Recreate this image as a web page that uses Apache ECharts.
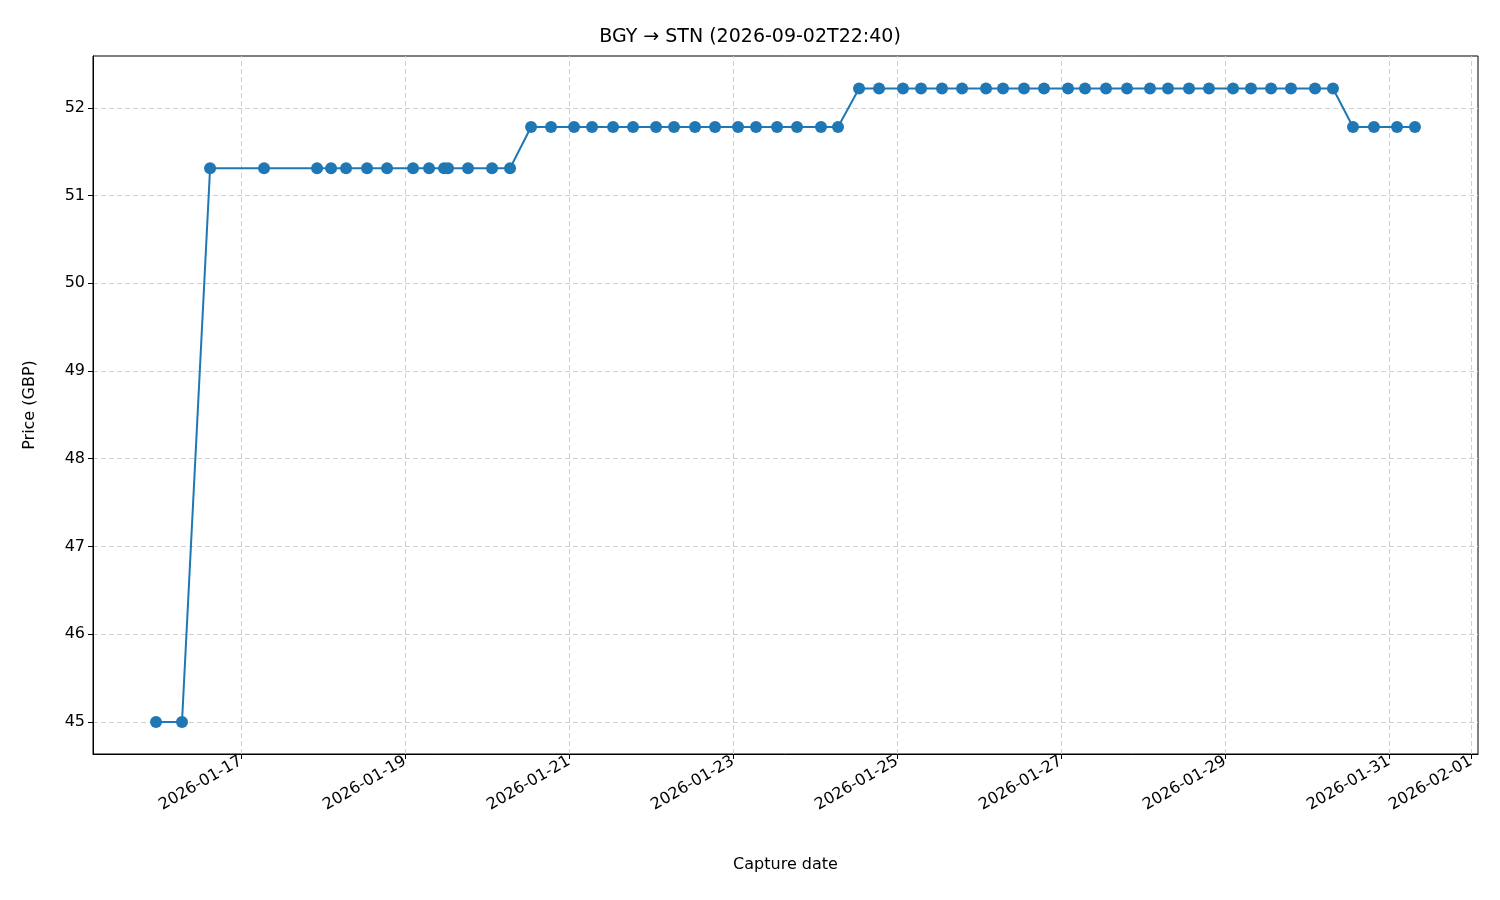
<!DOCTYPE html>
<html><head><meta charset="utf-8">
<script src="https://cdn.jsdelivr.net/npm/echarts@6/dist/echarts.min.js"></script>
<style>html,body{margin:0;padding:0;background:#fff}#c{width:1500px;height:900px}</style>
</head><body><div id="c"></div>
<script>
const captureTimes = [
"2026-01-15T23:07","2026-01-16T06:43","2026-01-16T14:56","2026-01-17T06:44","2026-01-17T22:15",
"2026-01-18T02:21","2026-01-18T06:44","2026-01-18T12:53","2026-01-18T18:44","2026-01-19T02:21",
"2026-01-19T07:02","2026-01-19T11:25","2026-01-19T12:35","2026-01-19T18:26","2026-01-20T01:28",
"2026-01-20T06:44","2026-01-20T12:53","2026-01-20T18:44","2026-01-21T01:28","2026-01-21T06:44",
"2026-01-21T12:53","2026-01-21T18:44","2026-01-22T01:28","2026-01-22T06:44","2026-01-22T12:53",
"2026-01-22T18:44","2026-01-23T01:28","2026-01-23T06:44","2026-01-23T12:53","2026-01-23T18:44",
"2026-01-24T01:45","2026-01-24T06:44","2026-01-24T12:53","2026-01-24T18:44","2026-01-25T01:45",
"2026-01-25T07:02","2026-01-25T13:10","2026-01-25T19:02","2026-01-26T02:03","2026-01-26T07:02",
"2026-01-26T13:10","2026-01-26T19:02","2026-01-27T02:03","2026-01-27T07:02","2026-01-27T13:10",
"2026-01-27T19:19","2026-01-28T02:03","2026-01-28T07:19","2026-01-28T13:28","2026-01-28T19:19",
"2026-01-29T02:21","2026-01-29T07:36","2026-01-29T13:28","2026-01-29T19:19","2026-01-30T02:21",
"2026-01-30T07:36","2026-01-30T13:28","2026-01-30T19:36","2026-01-31T02:21","2026-01-31T07:36"];
const prices = [
45,45,
51.31,51.31,51.31,51.31,51.31,51.31,51.31,51.31,51.31,51.31,51.31,51.31,51.31,51.31,
51.78,51.78,51.78,51.78,51.78,51.78,51.78,51.78,51.78,51.78,51.78,51.78,51.78,51.78,51.78,51.78,
52.22,52.22,52.22,52.22,52.22,52.22,52.22,52.22,52.22,52.22,52.22,52.22,52.22,52.22,52.22,52.22,52.22,52.22,52.22,52.22,52.22,52.22,52.22,52.22,
51.78,51.78,51.78,51.78];
const xTickLabels = ["2026-01-17","2026-01-19","2026-01-21","2026-01-23","2026-01-25","2026-01-27","2026-01-29","2026-01-31","2026-02-01"];
const yTicks = [45,46,47,48,49,50,51,52];
const xRange = ["2026-01-15T04:40","2026-02-01T02:03"];
const yRange = [44.635, 52.59];

const ts = s => Date.parse(s + (s.length > 10 ? ":00Z" : "T00:00:00Z"));
const xTicks = xTickLabels.map(ts);
const pad = n => String(n).padStart(2,'0');
const fmt = v => { const d = new Date(v); return d.getUTCFullYear()+'-'+pad(d.getUTCMonth()+1)+'-'+pad(d.getUTCDate()); };
const gridStyle = {color:'#d0d0d0', type:[5,3], width:1};
const chart = echarts.init(document.getElementById('c'));
chart.setOption({
  animation:false,
  title:{text:'BGY → STN (2026-09-02T22:40)', left:'center', top:23, textStyle:{fontFamily:'DejaVu Sans', fontSize:19, fontWeight:'normal', color:'#000'}},
  grid:{left:93, right:22, top:56, bottom:146},
  xAxis:{type:'value', min:ts(xRange[0]), max:ts(xRange[1]), name:'Capture date', nameLocation:'middle', nameGap:103,
    nameTextStyle:{fontFamily:'DejaVu Sans', fontSize:16, color:'#000'},
    axisLine:{lineStyle:{color:'#000'}}, splitLine:{show:false},
    axisTick:{customValues:xTicks, length:5, lineStyle:{color:'#000'}},
    axisLabel:{customValues:xTicks, formatter:fmt, rotate:30, fontFamily:'DejaVu Sans', fontSize:16, color:'#000', margin:6}},
  yAxis:{type:'value', min:yRange[0], max:yRange[1], name:'Price (GBP)', nameLocation:'middle', nameGap:55,
    nameTextStyle:{fontFamily:'DejaVu Sans', fontSize:16, color:'#000'},
    axisLine:{show:true, lineStyle:{color:'#000'}}, splitLine:{show:false},
    axisTick:{show:true, customValues:yTicks, length:5, lineStyle:{color:'#000'}},
    axisLabel:{customValues:yTicks, fontFamily:'DejaVu Sans', fontSize:16, color:'#000', margin:8}},
  series:[{type:'line', data:captureTimes.map((t,i)=>[ts(t), prices[i]]),
    lineStyle:{color:'#1f77b4', width:2}, itemStyle:{color:'#1f77b4'}, symbol:'circle', symbolSize:12,
    markLine:{silent:true, symbol:'none', label:{show:false}, lineStyle:gridStyle, z:0,
      data:[...xTicks.map(v=>({xAxis:v})), ...yTicks.map(v=>({yAxis:v}))]}, z:3}],
  graphic:[{type:'rect', shape:{x:93,y:56,width:1385,height:698}, style:{fill:'none', stroke:'#000', lineWidth:1}, silent:true}]
});
</script></body></html>
